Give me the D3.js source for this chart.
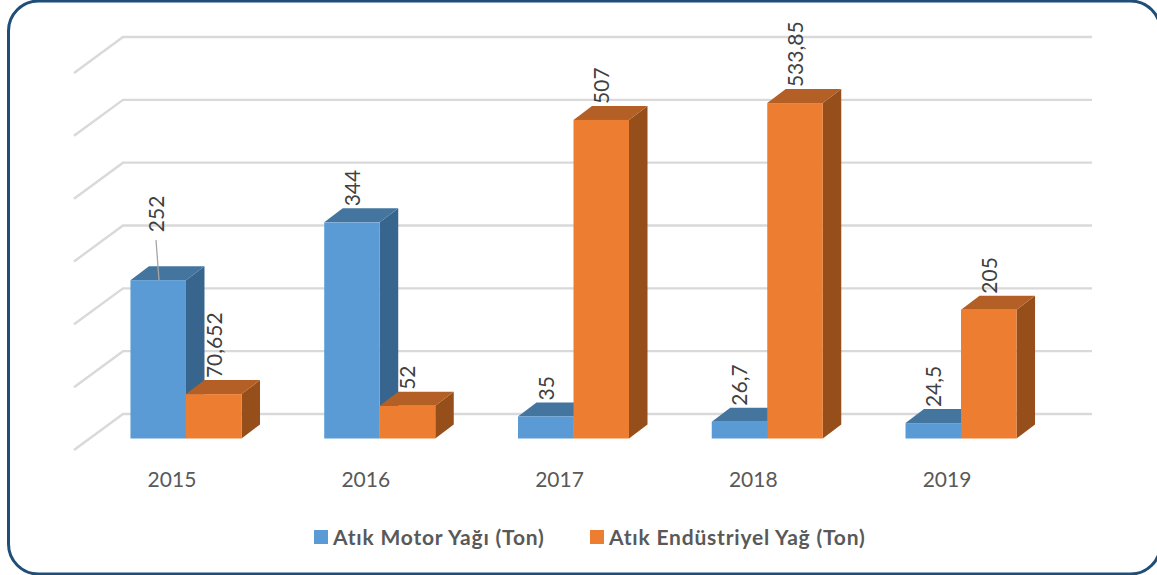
<!DOCTYPE html>
<html>
<head>
<meta charset="utf-8">
<script src="https://cdn.jsdelivr.net/npm/d3@7/dist/d3.min.js"></script>
<style>
html, body { margin: 0; padding: 0; background: #fff; overflow: hidden; }
svg { display: block; }
text { font-family: Lato, "Open Sans", sans-serif; fill: #595959; }
</style>
</head>
<body>
<script>
var years = ["2015", "2016", "2017", "2018", "2019"];
var seriesNames = ["Atık Motor Yağı (Ton)", "Atık Endüstriyel Yağ (Ton)"];
var motorOil = [252, 344, 35, 26.7, 24.5];
var industrialOil = [70.652, 52, 507, 533.85, 205];
var motorLabels = ["252", "344", "35", "26,7", "24,5"];
var industrialLabels = ["70,652", "52", "507", "533,85", "205"];
var gridTicks = [0, 100, 200, 300, 400, 500, 600];

var width = 1157, height = 575;
var depth = {x: 18.5, y: 14};
var back = {x: 49, y: 24.5};  // how far the back wall sits behind the bar fronts

var svg = d3.select("body").append("svg")
    .attr("width", width)
    .attr("height", height);

var x = d3.scaleBand().domain(years)
    .range([89.1, 1057.9])
    .paddingInner(0.427)
    .paddingOuter(0.2135);

var inner = d3.scaleBand().domain([0, 1]).range([0, x.bandwidth()]);

var y = d3.scaleLinear().domain([0, 600]).range([438.5, 61.5]);

var colors = [
    {front: "#5b9bd5", top: "#44759f", side: "#38658d"},
    {front: "#ed7d31", top: "#b45f25", side: "#964f1a"}
];

// frame
svg.append("rect")
    .attr("x", 8.5).attr("y", 1)
    .attr("width", 1152).attr("height", 573)
    .attr("rx", 30).attr("ry", 30)
    .attr("fill", "#fff")
    .attr("stroke", "#1f4e79")
    .attr("stroke-width", 3);

// grid, floor side + back wall
svg.append("g").selectAll("path")
    .data(gridTicks)
    .enter().append("path")
    .attr("d", function(d) {
        var yb = y(d) - back.y;
        return "M74," + (yb + 36) + "L123," + yb + "L1092," + yb;
    })
    .attr("fill", "none")
    .attr("stroke", "#d9d9d9")
    .attr("stroke-width", 2.4);

var rows = [];
years.forEach(function(yr, i) {
    rows.push({year: yr, s: 0, value: motorOil[i], label: motorLabels[i]});
    rows.push({year: yr, s: 1, value: industrialOil[i], label: industrialLabels[i]});
});

function barX(d) { return x(d.year) + inner(d.s); }

// orange goes after blue so it covers the blue side wall
var bars = svg.append("g").selectAll("g")
    .data(rows)
    .enter().append("g");

bars.append("path")
    .attr("fill", function(d) { return colors[d.s].side; })
    .attr("d", function(d) {
        var x1 = barX(d) + inner.bandwidth(), t = y(d.value), b = y(0);
        return "M" + x1 + "," + t + "l" + depth.x + "," + (-depth.y) + "L" + (x1 + depth.x) + "," + (b - depth.y) + "L" + x1 + "," + b + "Z";
    });

bars.append("path")
    .attr("fill", function(d) { return colors[d.s].top; })
    .attr("d", function(d) {
        var x0 = barX(d), w = inner.bandwidth(), t = y(d.value);
        return "M" + x0 + "," + t + "l" + depth.x + "," + (-depth.y) + "h" + w + "l" + (-depth.x) + "," + depth.y + "Z";
    });

bars.append("rect")
    .attr("x", barX)
    .attr("y", function(d) { return y(d.value); })
    .attr("width", inner.bandwidth())
    .attr("height", function(d) { return y(0) - y(d.value); })
    .attr("fill", function(d) { return colors[d.s].front; });

// leader line for 252
svg.append("line")
    .attr("x1", 156).attr("y1", 240)
    .attr("x2", 159).attr("y2", y(252))
    .attr("stroke", "#a6a6a6")
    .attr("stroke-width", 1.3);

// data labels, rotated, 252 is lifted off its bar
svg.append("g").selectAll("text")
    .data(rows)
    .enter().append("text")
    .attr("transform", function(d) {
        var lx = barX(d) + inner.bandwidth() / 2 + 0.5;
        var ly = y(d.value) - 16;
        if (d.label === "252") { lx -= 2; ly -= 32; }
        return "translate(" + lx + "," + ly + ") rotate(-90)";
    })
    .attr("dy", "0.35em")
    .attr("font-size", 21)
    .style("fill", "#404040")
    .text(function(d) { return d.label; });

// category labels
var axis = svg.append("g")
    .attr("transform", "translate(-14,472)")
    .call(d3.axisBottom(x).tickSize(0).tickPadding(0));
axis.select(".domain").remove();
axis.selectAll("text")
    .attr("font-size", 21)
    .style("font-family", "Lato, 'Open Sans', sans-serif")
    .style("fill", "#595959");

// legend
var legendX = [314, 590];
var legend = svg.append("g").selectAll("g")
    .data(seriesNames)
    .enter().append("g")
    .attr("transform", function(d, i) { return "translate(" + legendX[i] + ",530)"; });

legend.append("rect")
    .attr("width", 14).attr("height", 14)
    .attr("fill", function(d, i) { return colors[i].front; });

legend.append("text")
    .attr("x", 19).attr("y", 14.5)
    .attr("font-size", 21)
    .attr("font-weight", 700)
    .attr("letter-spacing", 0.8)
    .text(function(d) { return d; });
</script>
</body>
</html>
